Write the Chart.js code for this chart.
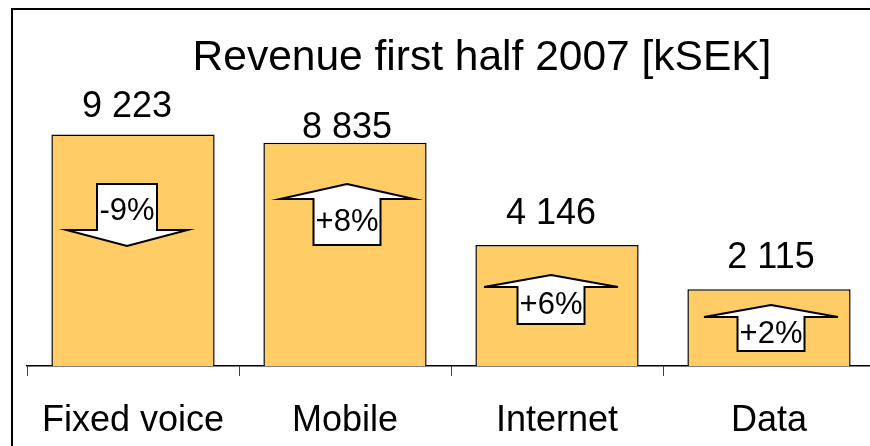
<!DOCTYPE html>
<html>
<head>
<meta charset="utf-8">
<title>Revenue first half 2007</title>
<script src="https://cdn.jsdelivr.net/npm/chart.js@4.4.1/dist/chart.umd.min.js"></script>
<style>
  html, body { margin: 0; padding: 0; background: #fff; }
  #wrap { position: relative; width: 870px; height: 446px; overflow: hidden; }
  #wrap canvas { position: absolute; left: 0; top: 0; }
  /* the black frame, only top and left edges are visible */
  #frame { position: absolute; left: 11px; top: 8px; width: 900px; height: 500px;
           border-top: 2px solid #000; border-left: 2px solid #000; }
</style>
</head>
<body>
<div id="wrap">
  <!-- a bit wider than the window: the plot runs past the right edge -->
  <canvas id="revenueChart" width="876" height="446"></canvas>
  <div id="frame"></div>
</div>
<script>
const categories = ['Fixed voice', 'Mobile', 'Internet', 'Data'];
const revenue = [9223, 8835, 4146, 2115];
const changes = [-9, 8, 6, 2];
const titleText = 'Revenue first half 2007 [kSEK]';

const FONT = '"Liberation Sans", Arial, sans-serif';
const Y_MIN = -1400;
const Y_MAX = 10800;

// arrow shapes, in pixels above the axis line
const arrowLayout = [
  { dx: -6, high: 182, low: 120, headH: 16, headW: 121, shaftW: 60, labelGap: 17 },
  { dx: 2, high: 182, low: 121, headH: 15, headW: 134, shaftW: 67, labelGap: 5 },
  { dx: -6, high: 91, low: 42, headH: 12, headW: 134, shaftW: 67, labelGap: 21 },
  { dx: 2, high: 61, low: 15, headH: 12, headW: 134, shaftW: 67, labelGap: 21 }
];

function formatValue(v) {
  return String(v).replace(/\B(?=(\d{3})+(?!\d))/g, ' ');
}

function formatChange(v) {
  return (v > 0 ? '+' : v < 0 ? '-' : '') + Math.abs(v) + '%';
}

function drawArrow(ctx, cx, yTop, yBottom, a, down, text) {
  const hw = a.headW / 2;
  const sw = a.shaftW / 2;
  let textY;
  ctx.beginPath();
  if (down) {
    const yh = yBottom - a.headH;
    ctx.moveTo(cx - sw, yTop);
    ctx.lineTo(cx + sw, yTop);
    ctx.lineTo(cx + sw, yh);
    ctx.lineTo(cx + hw, yh);
    ctx.lineTo(cx, yBottom);
    ctx.lineTo(cx - hw, yh);
    ctx.lineTo(cx - sw, yh);
    textY = (yTop + yh) / 2 + 4;
  } else {
    const yh = yTop + a.headH;
    ctx.moveTo(cx, yTop);
    ctx.lineTo(cx + hw, yh);
    ctx.lineTo(cx + sw, yh);
    ctx.lineTo(cx + sw, yBottom);
    ctx.lineTo(cx - sw, yBottom);
    ctx.lineTo(cx - sw, yh);
    ctx.lineTo(cx - hw, yh);
    textY = (yh + yBottom) / 2;
  }
  ctx.closePath();
  ctx.fillStyle = '#fff';
  ctx.fill();
  ctx.lineWidth = 2;
  ctx.lineJoin = 'miter';
  ctx.strokeStyle = '#000';
  ctx.stroke();

  ctx.font = `31px ${FONT}`;
  ctx.fillStyle = '#000';
  ctx.textAlign = 'center';
  ctx.textBaseline = 'middle';
  ctx.fillText(text, cx, textY);
}

const annotationPlugin = {
  id: 'revenueAnnotations',
  afterDatasetsDraw(chart) {
    const ctx = chart.ctx;
    const meta = chart.getDatasetMeta(0);
    ctx.save();
    meta.data.forEach((bar, i) => {
      const a = arrowLayout[i];
      const cx = bar.x + a.dx;

      // value above the bar
      ctx.font = `36px ${FONT}`;
      ctx.fillStyle = '#000';
      ctx.textAlign = 'center';
      ctx.textBaseline = 'alphabetic';
      ctx.fillText(formatValue(revenue[i]), cx, bar.y - a.labelGap);

      drawArrow(ctx, cx, bar.base - a.high, bar.base - a.low, a, changes[i] < 0, formatChange(changes[i]));
    });

    // title
    const area = chart.chartArea;
    ctx.font = `42.5px ${FONT}`;
    ctx.textAlign = 'center';
    ctx.textBaseline = 'alphabetic';
    ctx.fillText(titleText, (area.left + area.right) / 2 + 31, 70);
    ctx.restore();
  }
};

new Chart(document.getElementById('revenueChart'), {
  type: 'bar',
  data: {
    labels: categories,
    datasets: [{
      data: revenue,
      base: Y_MIN,
      backgroundColor: '#FFCC66',
      borderColor: '#000',
      borderWidth: 1.5,
      barPercentage: 0.77,
      categoryPercentage: 1
    }]
  },
  options: {
    responsive: false,
    animation: false,
    layout: {
      padding: { left: 27, right: 1, top: 100, bottom: 0 }
    },
    plugins: {
      legend: { display: false },
      tooltip: { enabled: false }
    },
    scales: {
      x: {
        afterFit: (scale) => { scale.height = 80; },
        border: { display: true, color: '#000', width: 1.5 },
        grid: {
          offset: true,
          drawOnChartArea: false,
          drawTicks: true,
          tickLength: 10,
          color: '#444',
          lineWidth: 1
        },
        ticks: {
          color: '#000',
          padding: 23,
          font: { family: FONT, size: 36 }
        }
      },
      y: {
        display: false,
        min: Y_MIN,
        max: Y_MAX
      }
    }
  },
  plugins: [annotationPlugin]
});
</script>
</body>
</html>
